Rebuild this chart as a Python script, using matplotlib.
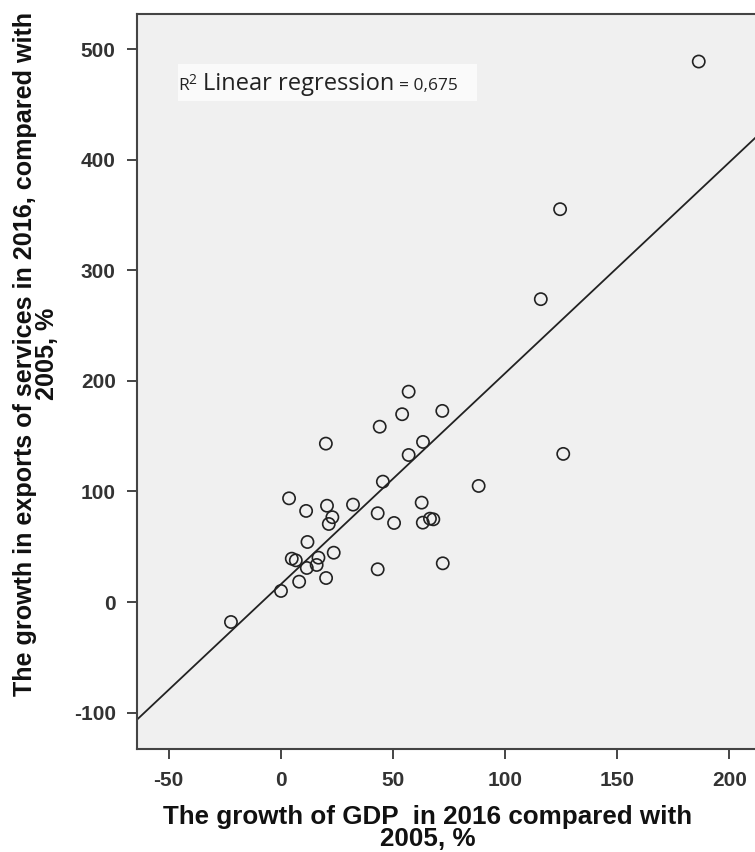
import numpy as np
import matplotlib
matplotlib.use("Agg")
import matplotlib.pyplot as plt
from matplotlib.patches import Rectangle

# ---- data ----
gdp_growth = [57.0, 72.0, 54.1, 44.1, 20.1, 63.4, 57.0, 45.5, 88.2, 3.7,
              62.8, 32.2, 11.3, 20.6, 43.2, 23.0, 21.4, 50.5, 63.3, 66.5,
              68.0, 11.9, 4.9, 6.7, 16.8, 23.6, 16.0, 11.6, 8.2, 20.2,
              43.2, 72.2, 0.1, -22.2, 115.9, 124.5, 186.3, 125.9]
exports_growth = [190.3, 172.9, 169.9, 158.6, 143.3, 144.8, 133.0, 108.9, 105.0, 93.8,
                  89.9, 88.1, 82.4, 87.1, 80.3, 76.7, 70.6, 71.5, 71.8, 75.4,
                  74.8, 54.3, 39.2, 37.7, 40.1, 44.6, 33.5, 30.8, 18.4, 21.7,
                  29.6, 35.0, 10.0, -18.1, 274.0, 355.4, 489.0, 134.0]
x_ticks = [-50, 0, 50, 100, 150, 200]
y_ticks = [-100, 0, 100, 200, 300, 400, 500]
x_label = "The growth of GDP  in 2016 compared with\n2005, %"
y_label = "The growth in exports of services in 2016, compared with\n2005, %"
r2_text = "0,675"

W, H = 755, 852
fig = plt.figure(figsize=(W / 100, H / 100), dpi=100, facecolor="white")

left, right, top, bottom = 136.5, 760, 14, 749
ax = fig.add_axes([left / W, 1 - bottom / H, (right - left) / W, (bottom - top) / H])
ax.set_facecolor("#F0F0F0")

x = np.array(gdp_growth)
y = np.array(exports_growth)
ax.scatter(x, y, s=8.8 ** 2, facecolors="none", edgecolors="#222222",
           linewidths=1.2, zorder=3)

xlim = (-64.3, 213.6)
ylim = (-133.0, 532.0)
slope, intercept = np.polyfit(x, y, 1)
xx = np.array(xlim)
ax.plot(xx, slope * xx + intercept, color="#222222", lw=1.3, zorder=2)

ax.set_xlim(*xlim)
ax.set_ylim(*ylim)
ax.set_xticks(x_ticks)
ax.set_yticks(y_ticks)
ax.set_xticklabels([str(v) for v in x_ticks])
ax.set_yticklabels([str(v) for v in y_ticks])

for lab in ax.get_xticklabels() + ax.get_yticklabels():
    lab.set_fontfamily("Liberation Sans")
    lab.set_fontweight("bold")
    lab.set_fontsize(15)
    lab.set_color("#333333")
ax.tick_params(axis="both", direction="out", length=7.5, width=1.4, color="#444444")
ax.tick_params(axis="x", pad=8.5)
ax.tick_params(axis="y", pad=7.5)

for side in ["left", "bottom", "top"]:
    ax.spines[side].set_color("#444444")
    ax.spines[side].set_linewidth(1.5)
ax.spines["right"].set_visible(False)

# axis labels
fig.text(428 / W, 1 - 828 / H, x_label, ha="center", va="center",
         family="Liberation Sans", weight="bold", size=18.7, color="#111111",
         linespacing=0.88, multialignment="center")
fig.text(36 / W, 1 - 354 / H, y_label, ha="center", va="center", rotation=90,
         family="Liberation Sans", weight="bold", size=18.1, color="#111111",
         linespacing=0.9, multialignment="center")

# R^2 annotation box
fig.patches.append(Rectangle((178 / W, 1 - 101 / H), 299 / W, 37 / H,
                             transform=fig.transFigure, facecolor="#FAFAFA",
                             edgecolor="none", zorder=1))
yb = 1 - 90 / H
fam = ["Open Sans", "DejaVu Sans"]
fig.text(178.5 / W, yb, "R", va="baseline", ha="left", family=fam, size=12.5,
         color="#222222", zorder=4)
fig.text(188.5 / W, yb + 6 / H, "2", va="baseline", ha="left", family=fam, size=10,
         color="#222222", zorder=4)
fig.text(203.5 / W, yb, "Linear regression", va="baseline", ha="left",
         family=fam, size=17, color="#222222", zorder=4)
fig.text(399 / W, yb, "= " + r2_text, va="baseline", ha="left",
         family=fam, size=12.5, color="#222222", zorder=4)

fig.savefig("out.png", dpi=100, facecolor="white")
